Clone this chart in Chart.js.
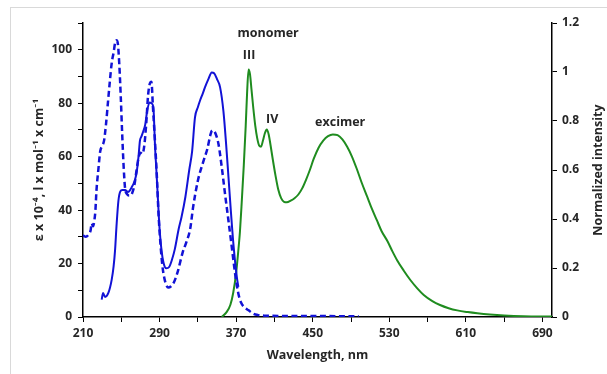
<!DOCTYPE html>
<html>
<head>
<meta charset="utf-8">
<script src="https://cdn.jsdelivr.net/npm/chart.js@4/dist/chart.umd.min.js"></script>
<style>
  html, body { margin: 0; padding: 0; background: #fff; }
  #frame { position: absolute; left: 10px; top: 7px; width: 700px; height: 500px;
           border-left: 1px solid #d9d9d9; border-top: 1px solid #d9d9d9; }
  #chart { position: absolute; left: 0; top: 0; }
</style>
</head>
<body>
<div id="frame"></div>
<canvas id="chart" width="607" height="374"></canvas>
<script>
// --- absorption, solid curve (left axis) ---
const solidNm = [229.5, 231, 233, 236.5, 240, 242, 243.5, 245, 247, 249, 251, 254, 257, 261, 264, 266,
  268, 269.5, 271, 273, 275, 277, 279.5, 281.5, 283.5, 285.3, 286.5, 288, 290, 292, 294, 297, 300,
  303, 306, 310, 313, 317, 321, 324, 327, 330, 332.3, 335, 337.5, 341, 344.5, 347, 350, 353.2,
  356.7, 359.5, 362, 364.4, 367.1, 370.7, 372.3];
const solidEps = [6.5, 9, 7.5, 9, 14, 19, 25, 34, 43.5, 47, 47.5, 47.5, 46.8, 48.6, 51, 54,
  60, 66, 67.5, 69.5, 72, 77, 80.3, 80, 78.5, 63.5, 56, 46, 33, 25, 20.5, 18.2, 18.7,
  21.5, 25.5, 33, 37.5, 45, 55, 62, 74.7, 78.5, 81, 83.5, 86, 89, 91.5, 91.2, 89, 86,
  77, 64.8, 52.3, 40, 27.5, 15, 11.3];

// --- absorption, dashed curve (left axis) ---
const dashNm = [210, 213, 216, 218, 219, 220.5, 222, 223, 224, 226, 228, 230, 232, 234, 236, 238,
  240, 242, 243.5, 245, 246.5, 248, 249.5, 251, 252.5, 254, 256, 258, 260, 262, 264, 266, 268,
  270, 272, 274, 276, 278, 280, 281.5, 283, 285, 287, 289, 291, 293, 295, 297, 299, 302, 305,
  309, 314, 318, 322, 325, 330, 336, 340, 343, 345, 348, 351.5, 355, 358.4, 362, 365.5, 369,
  372.3, 375, 379, 383, 388, 393, 400, 420, 450, 480, 498];
const dashEps = [30.5, 30, 31, 32.5, 35, 34, 36.5, 40, 47, 55, 62, 64, 66, 72, 80, 88,
  95, 99, 102.5, 103.5, 102, 94, 82, 68, 56, 48, 46, 45.5, 45.5, 47, 50, 55, 59.5,
  61.5, 61, 64, 72, 83, 87.5, 88, 79, 67, 54, 38, 27, 19, 14.5, 12, 11, 11.5, 13,
  17, 24, 28, 33, 41, 51, 58.5, 63, 68, 69.8, 69, 64.8, 56, 46, 36, 26, 16,
  8.8, 5.5, 3.5, 2.5, 1.2, 0.7, 0.5, 0.4, 0.4, 0.3, 0.3];

// --- emission, normalized (right axis) ---
const emNm = [355, 360, 364, 367, 370, 372, 374, 376, 378, 380, 381.5, 383, 384.5, 386, 388, 390,
  392, 394, 396, 398, 400, 402, 404, 406, 408, 411, 414, 417, 420, 423, 427, 431, 435, 439,
  443, 447, 451, 456, 461, 466, 471, 476, 481, 486, 491, 496, 501, 507, 512, 517, 522, 528,
  533, 538, 545, 552, 559, 566, 575, 583, 592, 601, 612, 622, 635, 650, 670, 700];
const emInt = [0, 0.02, 0.05, 0.1, 0.18, 0.26, 0.35, 0.48, 0.62, 0.78, 0.92, 1.01, 0.99, 0.93, 0.85, 0.78,
  0.73, 0.7, 0.695, 0.72, 0.75, 0.765, 0.745, 0.7, 0.65, 0.58, 0.52, 0.485, 0.47, 0.468, 0.475, 0.485, 0.5, 0.525,
  0.56, 0.6, 0.645, 0.69, 0.72, 0.738, 0.745, 0.742, 0.725, 0.695, 0.655, 0.605, 0.55, 0.49, 0.44, 0.395, 0.35, 0.31,
  0.27, 0.233, 0.19, 0.151, 0.118, 0.09, 0.065, 0.049, 0.036, 0.027, 0.02, 0.015, 0.01, 0.006, 0.003, 0.002];

// axis ticks
const xTicks = [210, 250, 290, 330, 370, 410, 450, 490, 530, 570, 610, 650, 690];
const xLabelled = [210, 290, 370, 450, 530, 610, 690];
const yLeftTicks = [0, 10, 20, 30, 40, 50, 60, 70, 80, 90, 100, 110];
const yLeftLabelled = [0, 20, 40, 60, 80, 100];
const yRightTicks = [0, 0.2, 0.4, 0.6, 0.8, 1, 1.2];

// peak labels (wavelength, normalized intensity)
const peakText = ['monomer', 'III', 'IV', 'excimer'];
const peakNm = [403.4, 383.5, 407.6, 478.7];
const peakInt = [1.159, 1.069, 0.808, 0.796];

const FONT = '"Open Sans", Lato, sans-serif';
const TXT = '#262626';
const BLUE = '#1212d6';
const GREEN = '#1f8c1f';

const pts = (xs, ys) => xs.map((x, i) => ({ x: x, y: ys[i] }));

// peak names + right axis title (reads bottom-to-top like the left one)
const extraText = {
  id: 'extraText',
  afterDatasetsDraw(chart) {
    const ctx = chart.ctx;
    const xs = chart.scales.x, ys = chart.scales.y2;
    ctx.save();
    ctx.font = 'bold 12.5px ' + FONT;
    ctx.fillStyle = TXT;
    ctx.textAlign = 'center';
    ctx.textBaseline = 'middle';
    peakText.forEach((t, i) => {
      ctx.fillText(t, xs.getPixelForValue(peakNm[i]), ys.getPixelForValue(peakInt[i]));
    });
    ctx.translate(ys.right - 9, (chart.chartArea.top + chart.chartArea.bottom) / 2);
    ctx.rotate(-Math.PI / 2);
    ctx.fillText('Normalized intensity', 0, 0);
    ctx.restore();
  }
};

const axisGrid = { drawOnChartArea: false, drawTicks: true, tickLength: 5, color: '#000', lineWidth: 1 };
const axisBorder = { display: true, color: '#000', width: 1.5 };
const tickFont = { family: FONT, size: 12, weight: 'bold' };
const titleFont = { family: FONT, size: 12.5, weight: 'bold' };

new Chart(document.getElementById('chart'), {
  type: 'line',
  data: {
    datasets: [
      {
        data: pts(solidNm, solidEps), yAxisID: 'y',
        borderColor: BLUE, borderWidth: 2, pointRadius: 0,
        cubicInterpolationMode: 'monotone', fill: false
      },
      {
        data: pts(dashNm, dashEps), yAxisID: 'y',
        borderColor: BLUE, borderWidth: 2.5, borderDash: [6, 3.5], pointRadius: 0,
        cubicInterpolationMode: 'monotone', fill: false
      },
      {
        data: pts(emNm, emInt), yAxisID: 'y2',
        borderColor: GREEN, borderWidth: 2, pointRadius: 0,
        cubicInterpolationMode: 'monotone', fill: false
      }
    ]
  },
  options: {
    responsive: false,
    animation: false,
    devicePixelRatio: 1,
    layout: { padding: { left: 28, top: 23, right: 0, bottom: 7 } },
    plugins: { legend: { display: false }, tooltip: { enabled: false } },
    scales: {
      x: {
        type: 'linear', min: 210, max: 700,
        grid: axisGrid, border: axisBorder,
        afterBuildTicks: s => { s.ticks = xTicks.map(v => ({ value: v })); },
        afterFit: s => { s.height = 50; },
        ticks: {
          autoSkip: false, maxRotation: 0, padding: 4, color: TXT, font: tickFont,
          callback: v => xLabelled.includes(v) ? String(v) : ''
        },
        title: { display: true, text: 'Wavelength, nm', color: TXT, font: titleFont, padding: { top: 2, bottom: 4 } }
      },
      y: {
        type: 'linear', position: 'left', min: 0, max: 110,
        grid: axisGrid, border: axisBorder,
        afterBuildTicks: s => { s.ticks = yLeftTicks.map(v => ({ value: v })); },
        afterFit: s => { s.width = 55; },
        ticks: {
          padding: 6, color: TXT, font: tickFont,
          callback: v => yLeftLabelled.includes(v) ? String(v) : ''
        },
        title: { display: true, text: 'ε x 10⁻⁴, l x mol⁻¹ x cm⁻¹', color: TXT, font: titleFont, padding: { top: 4, bottom: 2 } }
      },
      y2: {
        type: 'linear', position: 'right', min: 0, max: 1.2,
        grid: axisGrid, border: axisBorder,
        afterBuildTicks: s => { s.ticks = yRightTicks.map(v => ({ value: v })); },
        afterFit: s => { s.width = 55; },
        ticks: {
          padding: 5, color: TXT, font: tickFont,
          callback: v => String(Number(v.toFixed(1)))
        }
      }
    }
  },
  plugins: [extraText]
});
</script>
</body>
</html>
